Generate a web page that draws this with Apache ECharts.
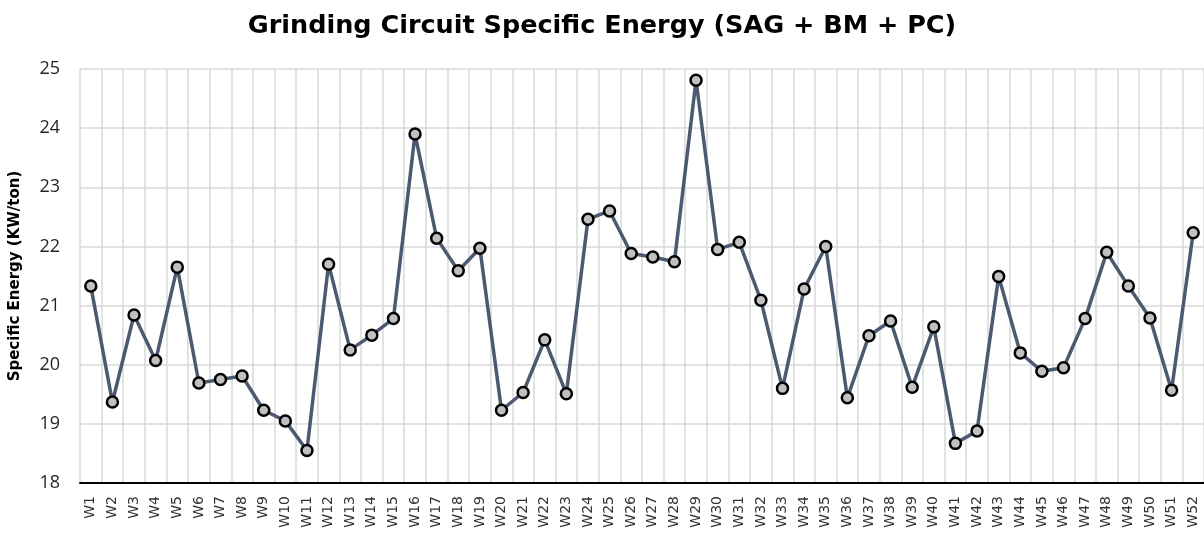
<!DOCTYPE html>
<html>
<head>
  <meta charset="utf-8" />
  <title>Grinding Circuit Specific Energy</title>
  <script src="https://cdn.jsdelivr.net/npm/echarts@6/dist/echarts.min.js"></script>
  <style>
    html, body { margin: 0; padding: 0; background: #fff; }
  </style>
</head>
<body>
  <div id="main" style="width:1204px;height:536px;"></div>
  <script type="text/javascript">
    // weeks W1..W52
    var weeks = [];
    for (var i = 1; i <= 52; i++) weeks.push('W' + i);

    // specific energy
    var energy = [
      21.33, 19.37, 20.84, 20.07, 21.65, 19.69, 19.75, 19.81, 19.23, 19.05,
      18.55, 21.70, 20.25, 20.50, 20.78, 23.90, 22.14, 21.59, 21.97, 19.23,
      19.53, 20.42, 19.51, 22.46, 22.60, 21.88, 21.82, 21.74, 24.81, 21.95,
      22.07, 21.09, 19.60, 21.28, 22.00, 19.44, 20.49, 20.74, 19.62, 20.64,
      18.67, 18.88, 21.49, 20.20, 19.89, 19.95, 20.78, 21.90, 21.33, 20.79,
      19.57, 22.23
    ];

    var yMin = 18, yMax = 25, yStep = 1;

    var myChart = echarts.init(document.getElementById('main'));

    var option = {
      animation: false,
      title: {
        text: 'Grinding Circuit Specific Energy (SAG + BM + PC)',
        left: 'center',
        top: 8,
        textStyle: {
          fontFamily: 'DejaVu Sans',
          fontWeight: 'bold',
          fontSize: 25.5,
          color: '#000'
        }
      },
      grid: {
        left: 78,
        top: 69,
        width: 1128,
        height: 414
      },
      xAxis: {
        type: 'category',
        data: weeks,
        boundaryGap: true,
        axisLine: { show: true, lineStyle: { color: '#000', width: 2 } },
        axisTick: { show: false },
        splitLine: { show: true, interval: 0, lineStyle: { color: '#d9d9d9', width: 1.5 } },
        axisLabel: {
          interval: 0,
          rotate: 90,
          margin: 13,
          fontFamily: 'DejaVu Sans',
          fontSize: 14,
          color: '#333'
        }
      },
      yAxis: {
        type: 'value',
        min: yMin,
        max: yMax,
        interval: yStep,
        name: 'Specific Energy (KW/ton)',
        nameLocation: 'middle',
        nameGap: 57,
        nameTextStyle: {
          fontFamily: 'DejaVu Sans',
          fontWeight: 'bold',
          fontSize: 15,
          color: '#000'
        },
        axisLine: { show: false },
        axisTick: { show: false },
        axisLabel: {
          margin: 20,
          fontFamily: 'Open Sans',
          fontSize: 18,
          color: '#262626'
        },
        splitLine: { lineStyle: { color: '#d9d9d9', width: 1.5 } }
      },
      series: [
        {
          type: 'line',
          data: energy,
          symbol: 'circle',
          symbolSize: 11,
          lineStyle: { color: '#4b5a70', width: 3.5 },
          itemStyle: { color: '#c0c0c0', borderColor: '#000', borderWidth: 2.5 }
        }
      ]
    };

    option && myChart.setOption(option);
  </script>
</body>
</html>
